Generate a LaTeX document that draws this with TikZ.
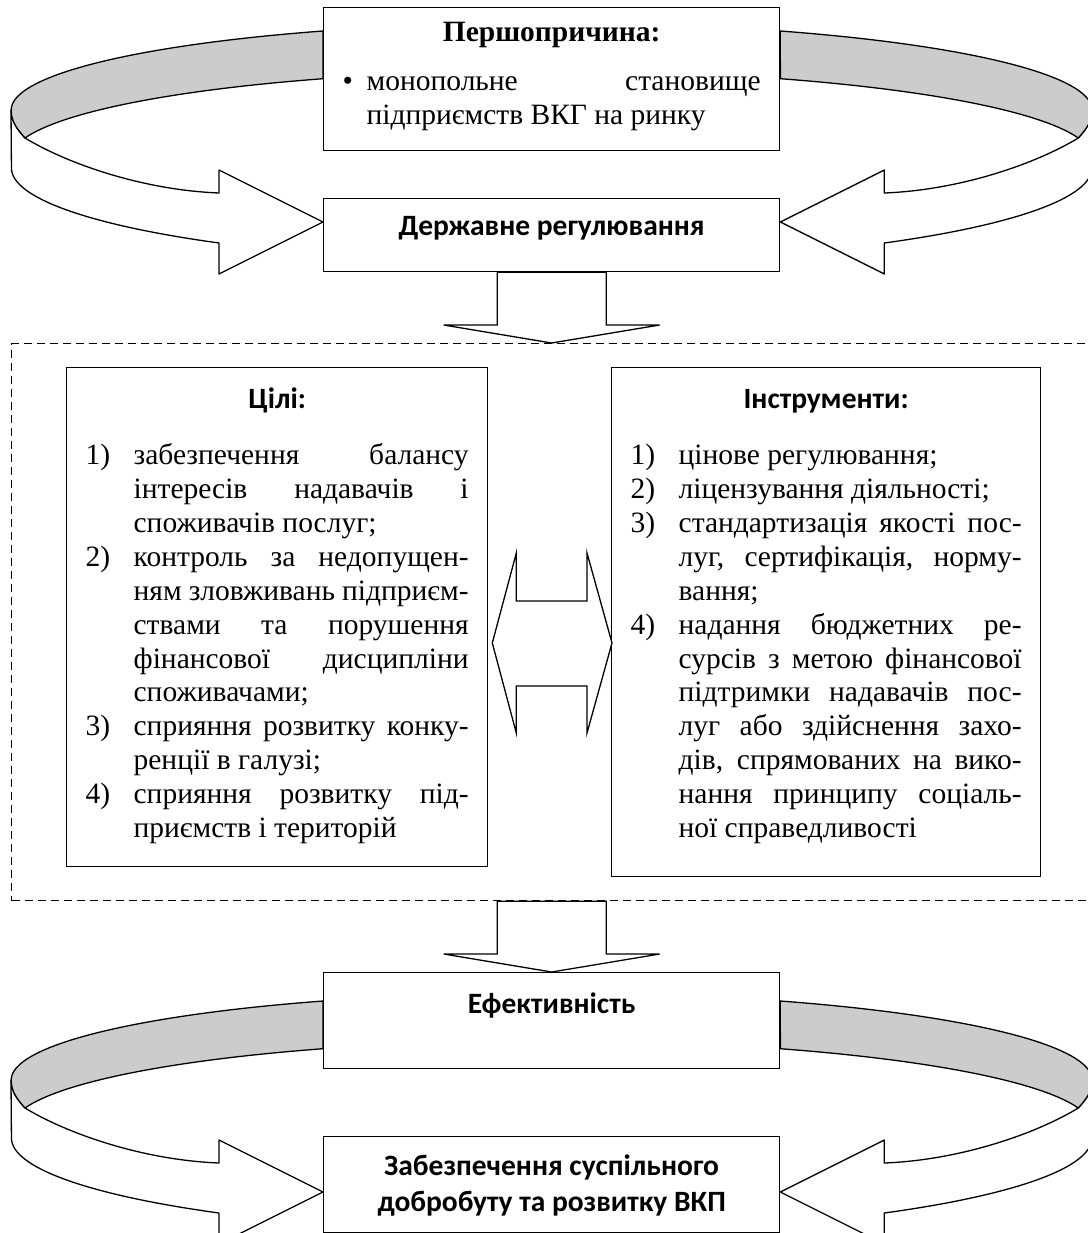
\documentclass[tikz,border=0pt]{standalone}
\usepackage{fontspec}
\setmainfont{Liberation Serif}
\newfontfamily\calibri{Carlito}
\usetikzlibrary{calc}

\newcommand{\boxbody}[3]{\vbox to #1{\parindent=0pt\tolerance=10000\hbadness=10000\prevdepth=0pt\vskip#2\relax#3\vfill}}
\newcommand{\midline}[1]{\hbox to\hsize{\hss#1\hss}}
\newcommand{\itm}[2]{\noindent\hangindent=48pt\hangafter=1\hbox to 48pt{#1\hss}#2\par}
\newcommand{\ribbonarrow}{%
  \draw[ribbon,fill=white] (-312,-112) .. controls (-312,-100) and (-305,-92) .. (-298,-84)
    .. controls (-255,-58) and (-180,-32) .. (-104,-29) -- (-104,-52) -- (0,0) -- (-104,52) -- (-104,21)
    arc[start angle=128,end angle=180,x radius=540,y radius=95] -- cycle;
  \draw[ribbon,fill=black!20] (0,-191) arc[start angle=245,end angle=180,x radius=540,y radius=87]
    .. controls (-312,-100) and (-305,-92) .. (-298,-84)
    arc[start angle=193,end angle=245,x radius=540,y radius=87] -- cycle;
}

\begin{document}
\begin{tikzpicture}[x=1pt,y=-1pt]
\tikzset{
  every node/.style={font=\fontsize{29.5pt}{33.9pt}\selectfont},
  plain box/.style={draw,fill=white,line width=1.3pt,anchor=north west,inner xsep=19pt,inner ysep=0pt,align=justify},
  block arrow/.style={draw,fill=white,line width=1.3pt,line join=miter},
  ribbon/.style={line width=1.3pt,line join=round},
  outer frame/.style={draw,dash pattern=on 8pt off 5pt,line width=1.3pt,anchor=north west,inner sep=0pt,minimum width=1090pt,minimum height=557pt}
}
\useasboundingbox (0,0) rectangle (1087,1233);

\node[outer frame] (frame) at (11,343) {};

% boxes
\node[plain box,text width=418pt] (cause) at (323,7) {\boxbody{143pt}{0pt}{%
  \midline{\bfseries Першопричина:}\vskip15pt
  \noindent\hangindent=24pt\hangafter=1\hbox to 24pt{•\hss}монопольне становище\linebreak підприємств ВКГ на ринку\par}};
\node[plain box,text width=418pt] (reg) at (323,198) {\boxbody{73pt}{2.6pt}{%
  \midline{\calibri\bfseries Державне регулювання}}};
\node[plain box,text width=383pt] (goals) at (66,367) {\boxbody{499pt}{6.6pt}{%
  \midline{\calibri\bfseries Цілі:}\vskip22.6pt
  \itm{1)}{забезпечення балансу\linebreak інтересів надавачів і\linebreak споживачів послуг;}
  \itm{2)}{контроль за недопущен-\linebreak ням зловживань підприєм-\linebreak ствами та порушення\linebreak фінансової дисципліни\linebreak споживачами;}
  \itm{3)}{сприяння розвитку конку-\linebreak ренції в галузі;}
  \itm{4)}{сприяння розвитку під-\linebreak приємств і територій}}};
\node[plain box,text width=391pt] (tools) at (611,367) {\boxbody{509pt}{6.6pt}{%
  \midline{\calibri\bfseries Інструменти:}\vskip22.6pt
  \itm{1)}{цінове регулювання;}
  \itm{2)}{ліцензування діяльності;}
  \itm{3)}{стандартизація якості пос-\linebreak луг, сертифікація, норму-\linebreak вання;}
  \itm{4)}{надання бюджетних ре-\linebreak сурсів з метою фінансової\linebreak підтримки надавачів пос-\linebreak луг або здійснення захо-\linebreak дів, спрямованих на вико-\linebreak нання принципу соціаль-\linebreak ної справедливості}}};
\node[plain box,text width=418pt] (effect) at (323,972) {\boxbody{96pt}{6.6pt}{%
  \midline{\calibri\bfseries Ефективність}}};
\node[plain box,text width=418pt,font=\fontsize{29.5pt}{36pt}\selectfont] (welfare) at (323,1136) {\boxbody{96pt}{3pt}{%
  \midline{\calibri\bfseries Забезпечення суспільного}
  \midline{\calibri\bfseries добробуту та розвитку ВКП}}};

% block arrows
\coordinate (a1) at (reg.south);
\coordinate (t1) at (reg.south |- frame.north);
\draw[block arrow] ($(a1)+(-54.5,0)$) -- ($(t1)+(-54.5,-18)$) -- ($(t1)+(-108,-18)$) -- (t1)
  -- ($(t1)+(108,-18)$) -- ($(t1)+(54.5,-18)$) -- ($(a1)+(54.5,0)$) -- cycle;
\coordinate (a2) at (effect.north |- frame.south);
\coordinate (t2) at (effect.north);
\draw[block arrow] ($(a2)+(-54.5,0)$) -- ($(t2)+(-54.5,-18)$) -- ($(t2)+(-108,-18)$) -- (t2)
  -- ($(t2)+(108,-18)$) -- ($(t2)+(54.5,-18)$) -- ($(a2)+(54.5,0)$) -- cycle;
\coordinate (lt) at ($(goals.north east)+(4,276)$);
\coordinate (rt) at ($(tools.north west)+(1,276)$);
\draw[block arrow] (lt) -- ++(24,-90) -- ++(0,48) -- ($(rt)+(-25,-42)$) -- ++(0,-48) -- (rt)
  -- ++(-25,90) -- ++(0,-47) -- ($(lt)+(24,43)$) -- ++(0,47) -- cycle;

% curved arrows
\begin{scope}[shift={($(reg.north west)+(0,24)$)}]
  \ribbonarrow
\end{scope}
\begin{scope}[shift={($(reg.north east)+(0,24)$)},xscale=-1]
  \ribbonarrow
\end{scope}
\begin{scope}[shift={($(welfare.north west)+(0,56)$)}]
  \ribbonarrow
\end{scope}
\begin{scope}[shift={($(welfare.north east)+(0,56)$)},xscale=-1]
  \ribbonarrow
\end{scope}
\end{tikzpicture}
\end{document}
